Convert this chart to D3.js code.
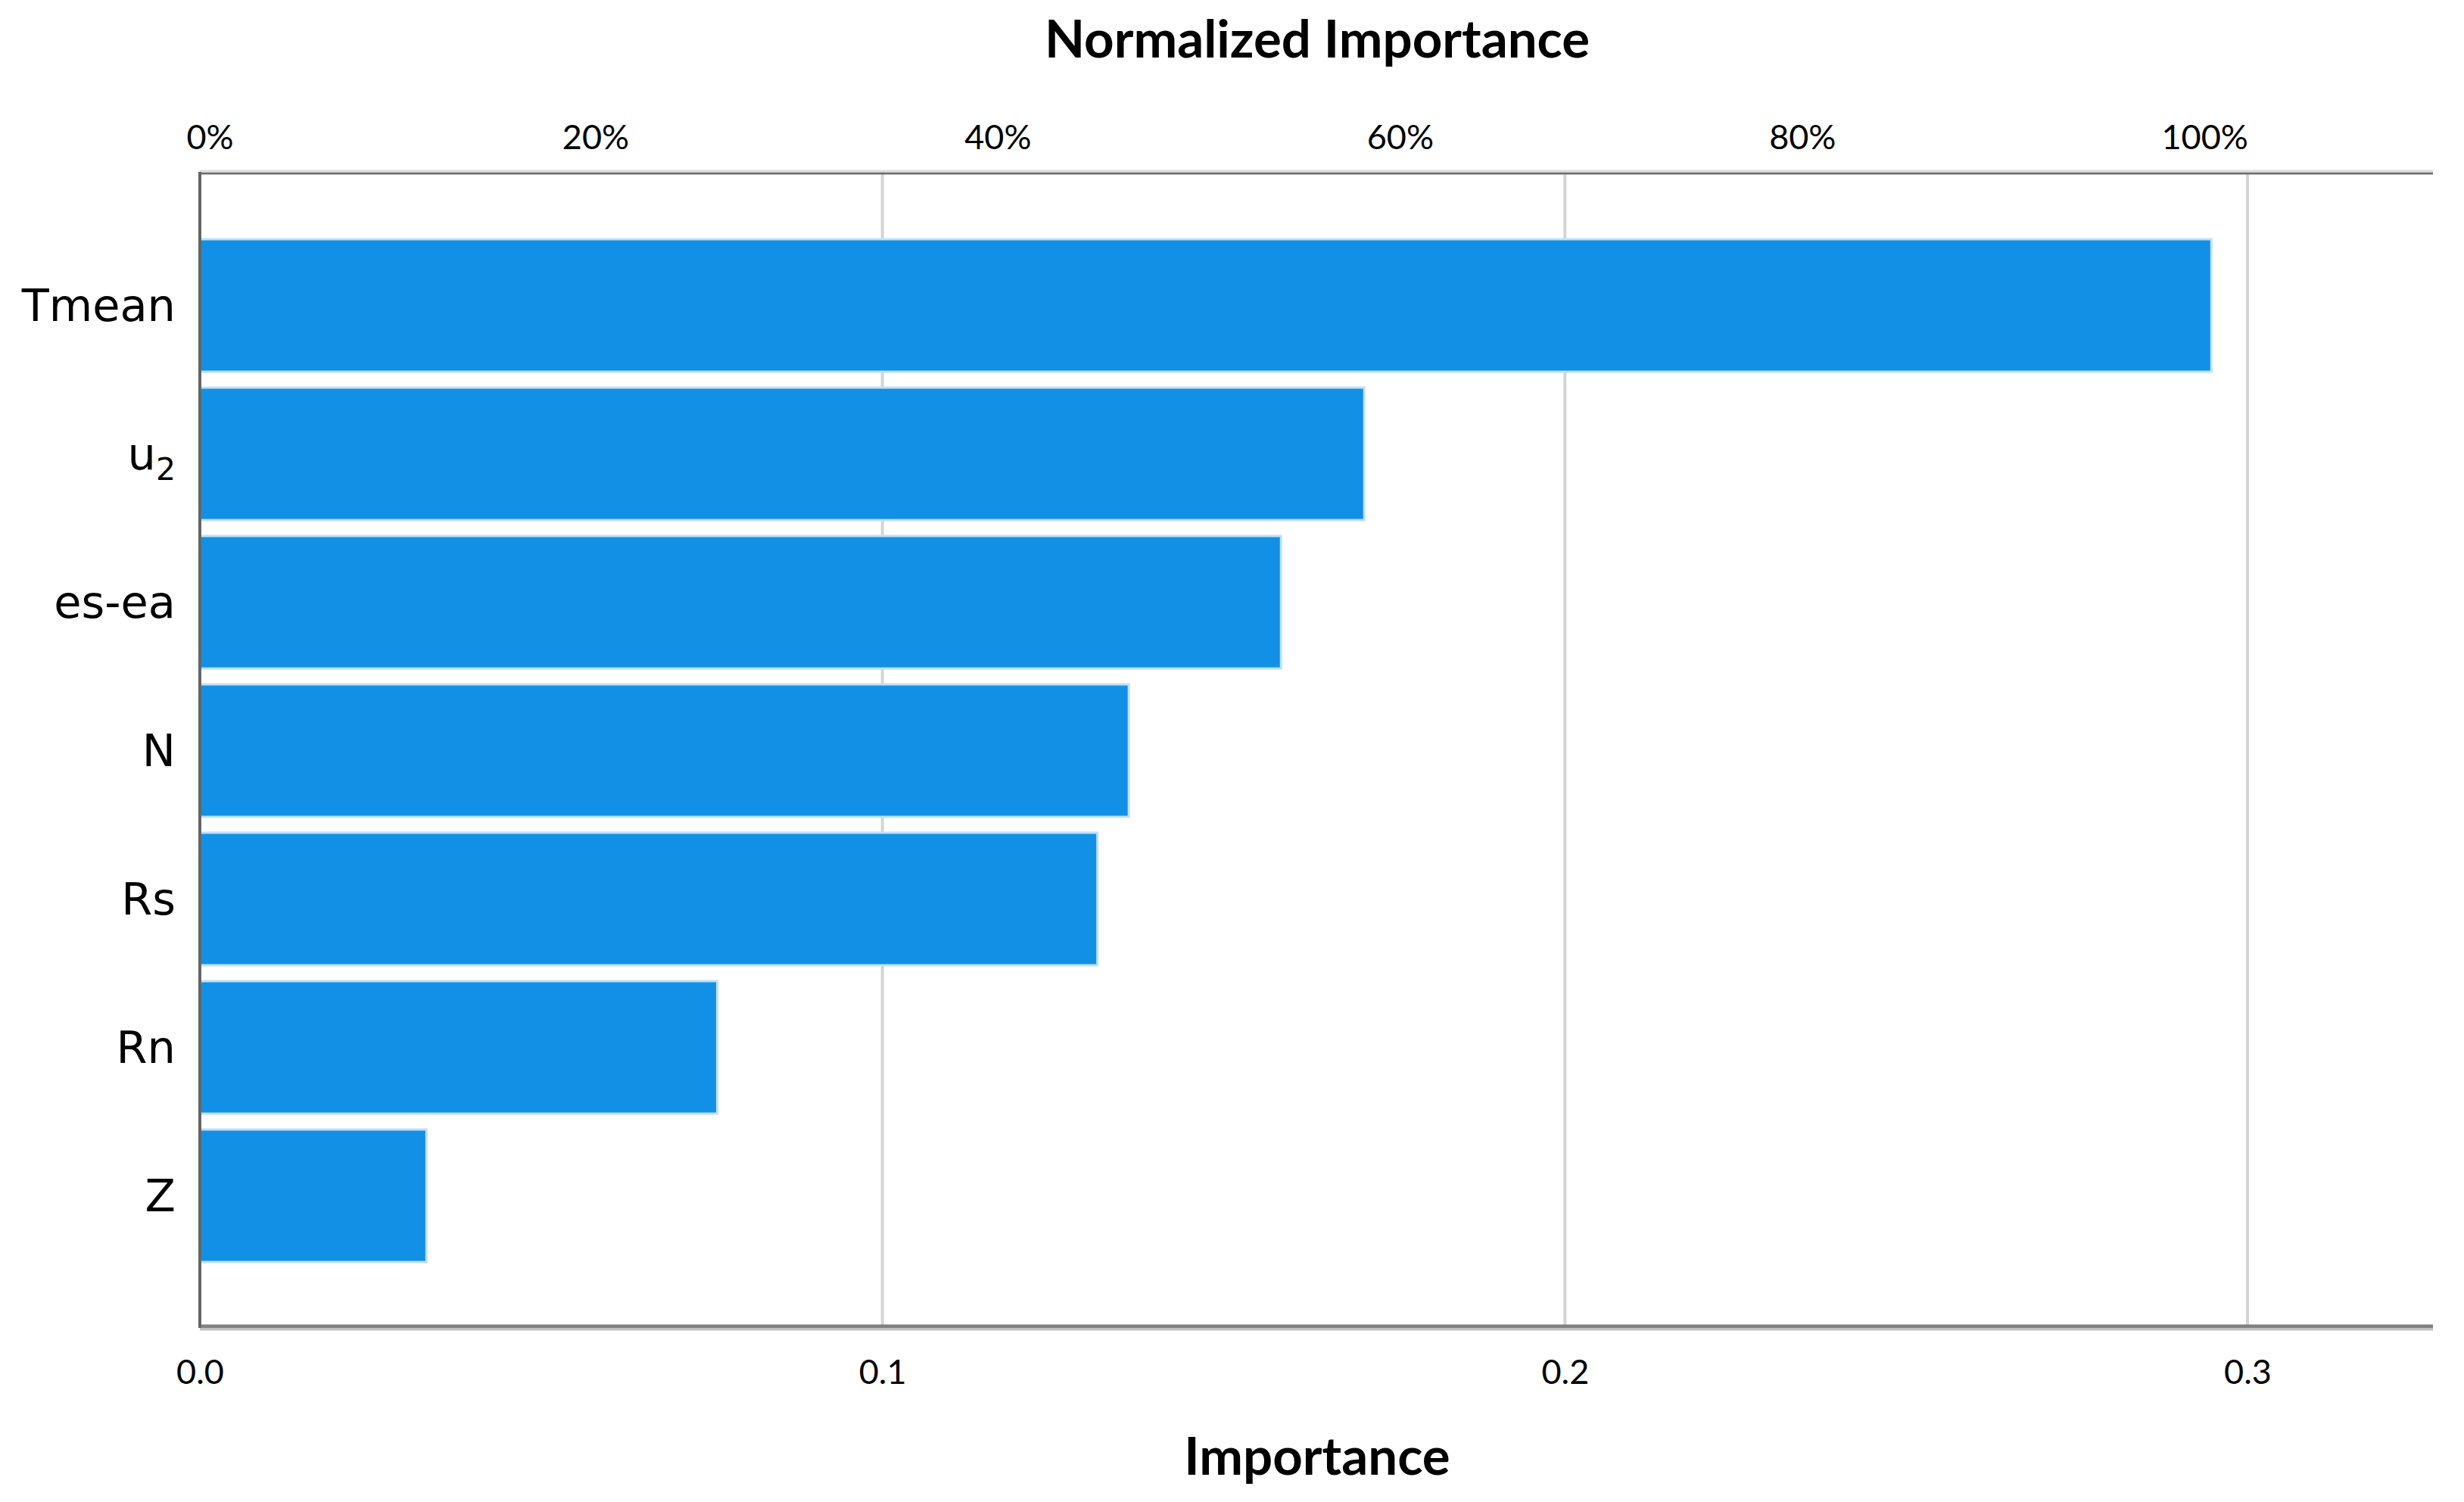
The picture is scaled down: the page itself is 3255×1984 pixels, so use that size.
<!DOCTYPE html>
<html>
<head>
<meta charset="utf-8">
<script src="https://cdn.jsdelivr.net/npm/d3@7"></script>
<style>
  html, body { margin: 0; padding: 0; background: #fff; }
  svg { display: block; }
</style>
</head>
<body>
<svg id="chart" width="3255" height="1984"></svg>
<script>
// ---- Data ----
const categories = ["Tmean", "u2", "es-ea", "N", "Rs", "Rn", "Z"];
const importance = [0.2947, 0.1706, 0.1584, 0.1361, 0.1315, 0.0758, 0.0332];
const bottomTicks = [0.0, 0.1, 0.2, 0.3];
const bottomTickLabels = ["0.0", "0.1", "0.2", "0.3"];
const topTicks = [0, 0.2, 0.4, 0.6, 0.8, 1.0];
const topTickLabels = ["0%", "20%", "40%", "60%", "80%", "100%"];

// ---- Layout ----
const W = 3255, H = 1984;
const plot = { left: 264, right: 3214, top: 229, bottom: 1752 };

const svg = d3.select("#chart");

const x = d3.scaleLinear().domain([0, 0.3]).range([plot.left, 2969]);
const maxVal = d3.max(importance);
const xTop = d3.scaleLinear().domain([0, 1]).range([x(0), x(maxVal)]);
const y = d3.scaleBand().domain(categories).range([316, 1667]).paddingInner(0.107).paddingOuter(0);

const data = categories.map((c, i) => ({ cat: c, val: importance[i] }));

// gridlines
svg.append("g").selectAll("line").data(bottomTicks.filter(d => d > 0)).join("line")
  .attr("x1", d => x(d)).attr("x2", d => x(d))
  .attr("y1", plot.top).attr("y2", plot.bottom)
  .attr("stroke", "#d4d4d4").attr("stroke-width", 4);

// bars
svg.append("g").selectAll("rect").data(data).join("rect")
  .attr("x", x(0))
  .attr("y", d => y(d.cat))
  .attr("width", d => x(d.val) - x(0))
  .attr("height", y.bandwidth())
  .attr("fill", "#1290e6")
  .attr("stroke", "#bfe0f8")
  .attr("stroke-width", 3);

// frame lines
svg.append("line").attr("x1", plot.left).attr("x2", plot.right)
  .attr("y1", plot.top).attr("y2", plot.top)
  .attr("stroke", "#6e6e6e").attr("stroke-width", 3);
svg.append("line").attr("x1", plot.left).attr("x2", plot.right)
  .attr("y1", plot.top - 3).attr("y2", plot.top - 3)
  .attr("stroke", "#dcdcdc").attr("stroke-width", 3);
svg.append("line").attr("x1", plot.left).attr("x2", plot.right)
  .attr("y1", plot.bottom).attr("y2", plot.bottom)
  .attr("stroke", "#808080").attr("stroke-width", 5);
svg.append("line").attr("x1", plot.left).attr("x2", plot.right)
  .attr("y1", plot.bottom + 4).attr("y2", plot.bottom + 4)
  .attr("stroke", "#c0c0c0").attr("stroke-width", 3);
svg.append("line").attr("x1", plot.left).attr("x2", plot.left)
  .attr("y1", plot.top - 2).attr("y2", plot.bottom + 2)
  .attr("stroke", "#666666").attr("stroke-width", 4);

// bottom axis labels
const tickFont = "Lato, 'Liberation Sans', sans-serif";
const bottomAxis = d3.axisBottom(x).tickValues(bottomTicks)
  .tickFormat((d, i) => bottomTickLabels[i]).tickSize(0).tickPadding(0);
const gb = svg.append("g").attr("transform", `translate(0, 1812)`).call(bottomAxis);
gb.select(".domain").remove();
gb.selectAll("text").attr("font-family", tickFont).attr("font-size", 45)
  .attr("fill", "#000").attr("dy", "0.35em").attr("y", 0);

// top axis labels
const topAxis = d3.axisTop(xTop).tickValues(topTicks)
  .tickFormat((d, i) => topTickLabels[i]).tickSize(0).tickPadding(0);
const gt = svg.append("g").attr("transform", `translate(0, 181)`).call(topAxis);
gt.select(".domain").remove();
gt.selectAll("text").attr("font-family", tickFont).attr("font-size", 45)
  .attr("fill", "#000").attr("dy", "0.35em").attr("y", 0)
  .attr("dx", d => d === 0 ? 13 : -9);

// category labels
const catFont = "'DejaVu Sans', Verdana, sans-serif";
const catG = svg.append("g");
data.forEach(d => {
  const t = catG.append("text")
    .attr("x", 232)
    .attr("y", y(d.cat) + y.bandwidth() / 2)
    .attr("dy", "0.35em")
    .attr("text-anchor", "end")
    .attr("font-family", catFont)
    .attr("font-size", 59)
    .attr("fill", "#000");
  if (d.cat === "u2") {
    t.append("tspan").text("u");
    t.append("tspan").attr("font-size", 41).attr("dy", "14").text("2");
  } else {
    t.text(d.cat);
  }
});

// titles
svg.append("text").attr("x", 1740).attr("y", 52).attr("dy", "0.35em")
  .attr("text-anchor", "middle").attr("font-family", tickFont)
  .attr("font-weight", "bold").attr("font-size", 69).text("Normalized Importance");
svg.append("text").attr("x", 1740).attr("y", 1924).attr("dy", "0.35em")
  .attr("text-anchor", "middle").attr("font-family", tickFont)
  .attr("font-weight", "bold").attr("font-size", 69).text("Importance");
</script>
</body>
</html>
